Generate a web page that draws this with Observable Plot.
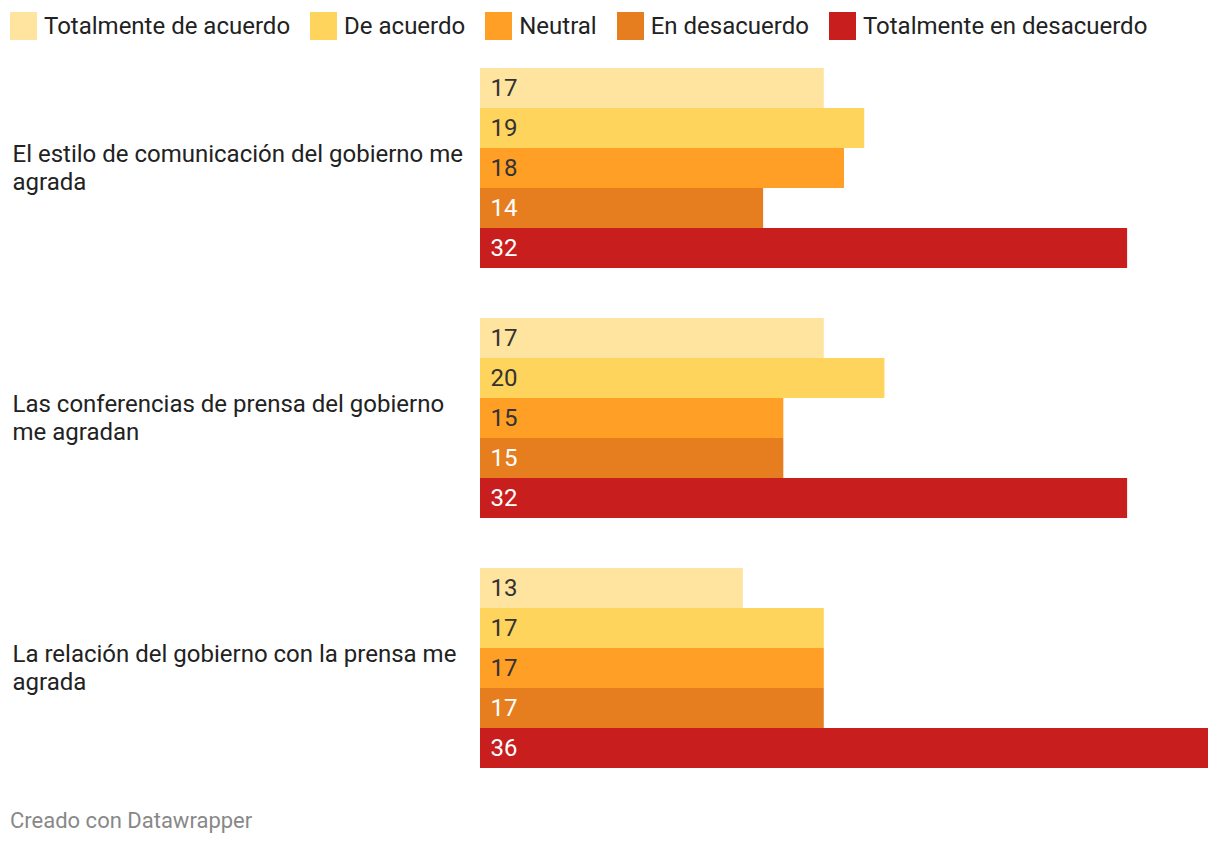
<!DOCTYPE html>
<html>
<head>
<meta charset="utf-8">
<script src="https://cdn.jsdelivr.net/npm/d3@7"></script>
<script src="https://cdn.jsdelivr.net/npm/@observablehq/plot@0.6"></script>
<style>
  html, body { margin: 0; padding: 0; background: #fff; font-family: Roboto, sans-serif; }
  #legend { height: 50px; display: flex; align-items: center; padding-left: 10px; gap: 20px; box-sizing: border-box; padding-top: 2px; }
  .item { display: flex; align-items: center; font-size: 24px; color: #222; }
  .sw { width: 27px; height: 28px; margin-right: 7px; }
  #footer { font-size: 22px; color: #888; padding-left: 10px; padding-top: 18px; }
</style>
</head>
<body>
<div id="legend"></div>
<div id="chart"></div>
<div id="footer">Creado con Datawrapper</div>
<script>
const questions = [
  "El estilo de comunicación del gobierno me agrada",
  "Las conferencias de prensa del gobierno me agradan",
  "La relación del gobierno con la prensa me agrada"
];
const categories = ["Totalmente de acuerdo", "De acuerdo", "Neutral", "En desacuerdo", "Totalmente en desacuerdo"];
const values = [
  [17, 19, 18, 14, 32],
  [17, 20, 15, 15, 32],
  [13, 17, 17, 17, 36]
];
const colors = ["#fee49e", "#ffd45c", "#ff9f25", "#e67e20", "#c81e1e"];
const darkText = ["Totalmente de acuerdo", "De acuerdo", "Neutral"];

const data = questions.flatMap((q, i) => categories.map((c, j) => ({q, c, v: values[i][j]})));

function wrap(s, max = 41) {
  const words = s.split(" ");
  const lines = [];
  let cur = "";
  for (const w of words) {
    const t = cur ? cur + " " + w : w;
    if (t.length > max && cur) { lines.push(cur); cur = w; } else cur = t;
  }
  if (cur) lines.push(cur);
  return lines.join("\n");
}

const legend = document.getElementById("legend");
categories.forEach((c, i) => {
  const it = document.createElement("div");
  it.className = "item";
  it.innerHTML = `<span class="sw" style="background:${colors[i]}"></span><span>${c}</span>`;
  legend.appendChild(it);
});

const chart = Plot.plot({
  width: 1220,
  height: 740,
  marginLeft: 480,
  marginRight: 12,
  marginTop: 18,
  marginBottom: 22,
  style: {fontFamily: "Roboto, sans-serif", fontSize: "24px", background: "#fff"},
  x: {domain: [0, 36], axis: null},
  y: {domain: categories, padding: 0, axis: null},
  fy: {domain: questions, paddingInner: 0.2, paddingOuter: 0, axis: null},
  color: {domain: categories, range: colors},
  marks: [
    Plot.barX(data, {x: "v", y: "c", fy: "q", fill: "c"}),
    Plot.text(data.filter(d => darkText.includes(d.c)), {x: 0, y: "c", fy: "q", text: "v", dx: 10, textAnchor: "start", fill: "#333", fontSize: 24}),
    Plot.text(data.filter(d => !darkText.includes(d.c)), {x: 0, y: "c", fy: "q", text: "v", dx: 10, textAnchor: "start", fill: "#fff", fontSize: 24}),
    Plot.text(questions, {fy: d => d, text: d => wrap(d), frameAnchor: "left", dx: -468, dy: -1, textAnchor: "start", fill: "#222", fontSize: 24, lineHeight: 1.1667})
  ]
});
document.getElementById("chart").appendChild(chart);
</script>
</body>
</html>
